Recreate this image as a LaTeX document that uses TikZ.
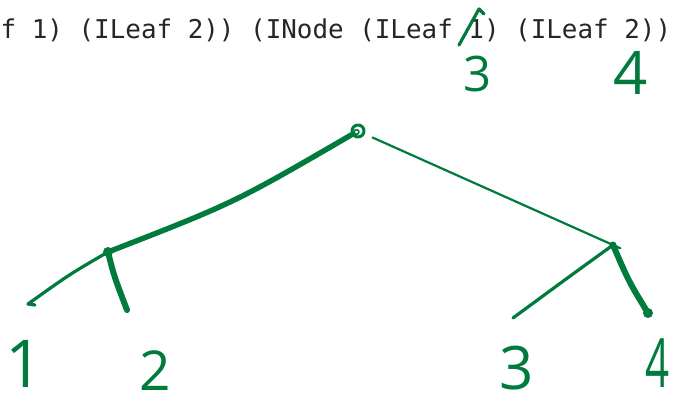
\documentclass[tikz,border=0pt]{standalone}
\usepackage{fontspec}
\newfontfamily\codefont{DejaVu Sans Mono}
\newfontfamily\handfont{Open Sans}
\usetikzlibrary{calc}
\definecolor{ink}{RGB}{0,122,61}
\begin{document}
\begin{tikzpicture}[x=1pt,y=-1pt,
  stroke/.style={draw=ink, line cap=round, line join=round},
  thinstroke/.style={stroke, line width=2.2pt},
  medstroke/.style={stroke, line width=3.2pt},
  thickstroke/.style={stroke, line width=5.4pt},
  digit/.style={text=ink, inner sep=0pt, anchor=base},
  blob/.style={fill=ink, circle, inner sep=0pt, minimum size=#1}]
\useasboundingbox (0,0) rectangle (673,404);
\clip (0,0) rectangle (673,404);
\fill[white] (0,0) rectangle (673,404);
% code line
\node[anchor=base west, inner sep=0pt, text=black!85,
      font=\codefont\fontsize{25.9}{30}\selectfont] (code) at (0.5,39)
  {f 1) (ILeaf 2)) (INode (ILeaf 1) (ILeaf 2))};
% correction strokes and digits above
\coordinate (x1) at (459,45);
\coordinate (x2) at (479,9);
\coordinate (x3) at (484,14);
\draw[medstroke] (x1) -- (x2) -- (x3);
\node[digit, font=\handfont\fontsize{49}{50}\selectfont] (u3) at (478,92) {3};
\node[digit, font=\handfont\fontsize{60}{60}\selectfont] (u4) at (631,95) {4};
% tree
\node[circle, minimum size=15pt, inner sep=0pt] (root) at (358,131) {};
\draw[stroke, line width=3pt] (root.center) circle (6pt);
\draw[stroke, line width=1.6pt] ($(root.center)+(-1.5,1)$) circle (2.4pt);
\node[blob=10pt] (L) at (108,252) {};
\node[blob=7pt] (R) at (613,245) {};
\coordinate (l1) at (28,304);
\coordinate (l1h) at (35,305);
\coordinate (l2) at (127,310);
\coordinate (r1) at (513,318);
\coordinate (r2) at (648,313);
\coordinate (rs) at ($(root)!16pt!(R)$);
\coordinate (re) at ($(R)!-8pt!(root)$);
\draw[thickstroke] (root) .. controls (234,203) .. (L.center);
\draw[thinstroke] (rs) -- (re);
\draw[medstroke] (L.center) .. controls (70,274) .. (l1) -- (l1h);
\draw[thickstroke, line width=6pt] (L.center) .. controls (114,276) .. (l2);
\draw[medstroke] (R.center) .. controls (566,279) .. (r1);
\draw[thickstroke, line width=6pt] (R.center) .. controls (629,282) .. (r2);
\node[blob=10pt] (r2b) at (r2) {};
% leaf digits
\node[digit, font=\handfont\fontsize{66}{68}\selectfont] (d1) at (24,387) {1};
\node[digit, font=\handfont\fontsize{55}{57}\selectfont] (d2) at (155,390) {2};
\node[digit, font=\handfont\fontsize{60}{62}\selectfont] (d3) at (517,389) {3};
\node[digit, font=\handfont\fontsize{68}{70}\selectfont, anchor=base west, xscale=0.62] (d4) at (645,387) {4};
\end{tikzpicture}
\end{document}
